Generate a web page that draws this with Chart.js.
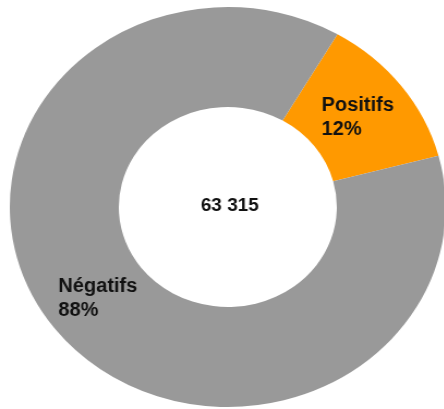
<!DOCTYPE html>
<html>
<head>
<meta charset="utf-8">
<script src="https://cdn.jsdelivr.net/npm/chart.js@4.4.0/dist/chart.umd.min.js"></script>
<style>
  html, body { margin: 0; padding: 0; background: #fff; overflow: hidden; }
  #wrap { position: relative; width: 444px; height: 409px; }
  /* the original donut is a bit wider than tall, so stretch the canvas */
  #resultChart { position: absolute; left: 0; top: 0; transform: scaleX(1.09); transform-origin: 0 0; }
</style>
</head>
<body>
<div id="wrap">
  <canvas id="resultChart" width="420" height="416"></canvas>
</div>
<script>
// Données du graphique
var categories = ['Positifs', 'Négatifs'];
var counts = [7900, 55415];
var colors = ['#FF9900', '#999999'];
var total = 63315;

var stretch = 1.09;

function formatNumber(n) {
    return String(n).replace(/\B(?=(\d{3})+(?!\d))/g, ' ');
}

// Étiquettes dans les segments + total au centre
var labelsPlugin = {
    id: 'donutLabels',
    afterDatasetsDraw: function(chart) {
        var ctx = chart.ctx;
        var meta = chart.getDatasetMeta(0);
        ctx.save();
        ctx.scale(1 / stretch, 1);
        ctx.fillStyle = '#111';
        ctx.textBaseline = 'middle';
        ctx.textAlign = 'left';
        ctx.font = 'bold 20px "Liberation Sans", Arial, sans-serif';
        meta.data.forEach(function(arc, i) {
            var pos = arc.tooltipPosition();
            var pct = Math.round(counts[i] / total * 100) + '%';
            var lines = [categories[i], pct];
            var w = Math.max(ctx.measureText(lines[0]).width, ctx.measureText(lines[1]).width);
            var x = pos.x * stretch - w / 2;
            ctx.fillText(lines[0], x, pos.y - 11);
            ctx.fillText(lines[1], x, pos.y + 13);
        });
        var c = meta.data[0];
        ctx.textAlign = 'center';
        ctx.font = 'bold 19px "Liberation Sans", Arial, sans-serif';
        ctx.fillText(formatNumber(total), c.x * stretch + 2, c.y - 1);
        ctx.restore();
    }
};

var ctx = document.getElementById('resultChart').getContext('2d');
var resultChart = new Chart(ctx, {
    type: 'doughnut',
    data: {
        labels: categories,
        datasets: [{
            data: counts,
            backgroundColor: colors,
            borderWidth: 0,
            hoverOffset: 0,
            offset: 0
        }]
    },
    options: {
        responsive: false,
        animation: false,
        rotation: 30.2,
        cutout: '50%',
        layout: {
            padding: { left: 9, top: 7, right: 11, bottom: 9 }
        },
        plugins: {
            legend: { display: false },
            tooltip: { enabled: false }
        }
    },
    plugins: [labelsPlugin]
});
</script>
</body>
</html>
